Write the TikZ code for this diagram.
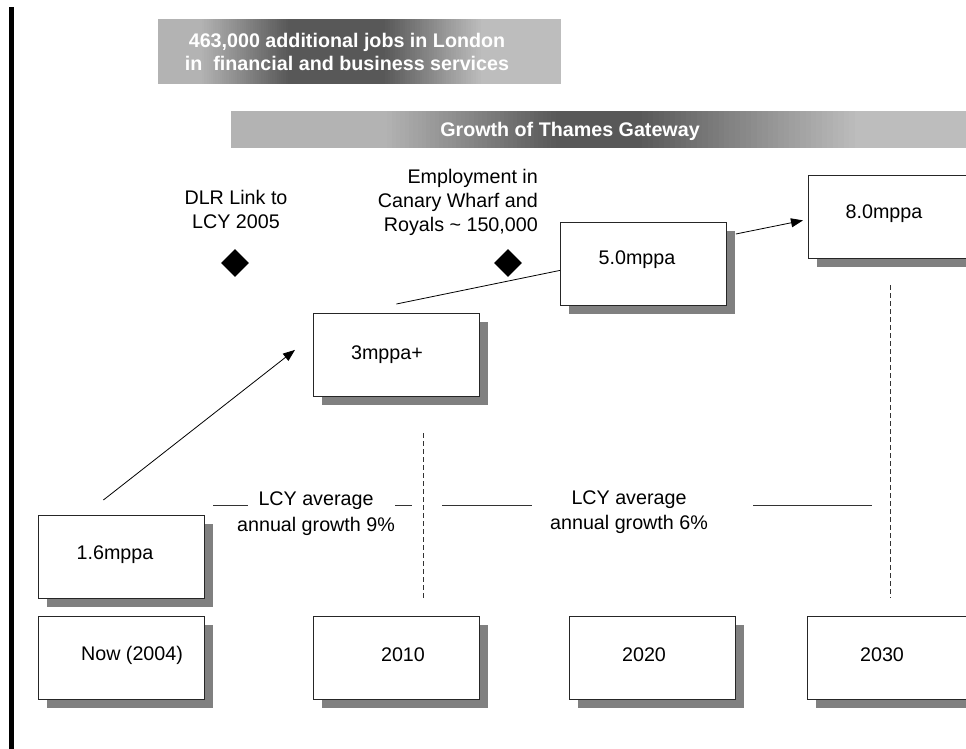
\documentclass[tikz,border=0pt]{standalone}
\usepackage{fontspec}
\setmainfont{Liberation Sans}
\usetikzlibrary{shapes.geometric,shadows,arrows.meta}
\definecolor{lightA}{HTML}{B3B3B3}
\definecolor{lightB}{HTML}{BDBDBD}
\definecolor{darkG}{HTML}{585858}
\definecolor{shgray}{HTML}{808080}
% manual gradient: #1=x start, #2=x end, #3=y top, #4=y bottom, #5 start colour, #6 end colour
\newcommand\gradstrip[6]{%
  \foreach \k in {0,...,40}{%
    \pgfmathsetmacro\xa{#1+(#2-#1)*\k/41}%
    \pgfmathsetmacro\xb{#1+(#2-#1)*(\k+1)/41+0.6}%
    \pgfmathsetmacro\pc{100-\k*100/40}%
    \fill[#5!\pc!#6] (\xa,#3) rectangle (\xb,#4);
  }}
\begin{document}
\begin{tikzpicture}[x=1pt,y=1pt,
  box/.style={draw=black!85, line width=0.8pt, fill=white, minimum width=166pt, minimum height=83pt, inner sep=0pt, anchor=north west,
    drop shadow={shadow xshift=9pt, shadow yshift=-9pt, fill=shgray, opacity=1}},
  txt/.style={font=\fontsize{19.7}{24}\selectfont, inner sep=0pt, align=center},
  htxt/.style={font=\fontsize{19.7}{23}\selectfont\bfseries, text=white, inner sep=0pt, align=center},
  gem/.style={diamond, fill=black, minimum width=28pt, minimum height=28pt, inner sep=0pt, aspect=1},
  arr/.style={line width=0.8pt, -{Triangle[length=12pt,width=9pt]}},
  conn/.style={line width=0.8pt},
  seg/.style={line width=0.8pt, draw=black!80},
  dsh/.style={line width=0.8pt, draw=black!80, dash pattern=on 5pt off 3pt}]
\useasboundingbox (0,0) rectangle (966,-749);
\clip (0,0) rectangle (966,-749);
\fill[white] (0,0) rectangle (966,-749);
% left black bar
\fill[black] (9,-7) rectangle (14,-749);
% header box gradient (light - dark - light)
\fill[lightA] (158,-19) rectangle (200.5,-84);
\gradstrip{200}{290}{-19}{-84}{lightA}{darkG}
\fill[darkG] (290,-19) rectangle (383.5,-84);
\gradstrip{383}{483}{-19}{-84}{darkG}{lightB}
\fill[lightB] (483,-19) rectangle (561,-84);
\node[minimum width=403pt, minimum height=65pt, inner sep=0pt] (topbox) at (359.5,-51.5) {};
\node[htxt] (toptext) at (347,-51.5) {463,000 additional jobs in London\\in\ \ financial and business services};
% Thames Gateway bar gradient
\fill[lightA] (231,-111) rectangle (383.5,-148);
\gradstrip{383}{560}{-111}{-148}{lightA}{darkG}
\fill[darkG] (560,-111) rectangle (637.5,-148);
\gradstrip{637}{860}{-111}{-148}{darkG}{lightB}
\fill[lightB] (860,-111) rectangle (966,-148);
\node[minimum width=735pt, minimum height=37pt, inner sep=0pt] (bar) at (598.5,-129.5) {};
\node[htxt] (bartext) at (570,-131) {Growth of Thames Gateway};
% milestones
\node[txt] (dlr) at (236,-209.5) {DLR Link to\\LCY 2005};
\node[txt, align=right, anchor=east] (emp) at (538,-202.5) {Employment in\\Canary Wharf and\hspace*{5pt}\\Royals \textasciitilde{} 150,000};
\node[gem] (d1) at (235,-263) {};
\node[gem] (d2) at (508,-263) {};
% capacity boxes
\node[box] (b16) at (38,-515) {};
\node[txt] (t16) at (115,-555) {1.6mppa};
\node[box] (b3) at (313,-313) {};
\node[txt] (t3) at (387,-355) {3mppa+};
\node[box] (b5) at (560,-222) {};
\node[txt] (t5) at (637,-260) {5.0mppa};
\node[box] (b8) at (808,-175) {};
\node[txt] (t8) at (884,-214) {8.0mppa};
% year boxes
\node[box] (y04) at (38,-616) {};
\node[txt] (ty04) at (132,-655) {Now (2004)};
\node[box] (y10) at (313,-616) {};
\node[txt] (ty10) at (403,-655) {2010};
\node[box] (y20) at (569,-616) {};
\node[txt] (ty20) at (644,-655) {2020};
\node[box] (y30) at (807,-616) {};
\node[txt] (ty30) at (882,-655) {2030};
% growth labels
\node[txt, font=\fontsize{19.7}{26}\selectfont] (g9) at (316,-514) {LCY average\\annual growth 9\%};
\node[txt, font=\fontsize{19.7}{25}\selectfont] (g6) at (629,-512.5) {LCY average\\annual growth 6\%};
\draw[seg] (213,-505.5) -- (248,-505.5);
\draw[seg] (395,-505.5) -- (412,-505.5);
\draw[seg] (442,-505.5) -- (532,-505.5);
\draw[seg] (753,-505.5) -- (872,-505.5);
% dashed dividers
\draw[dsh] (423,-433) -- (423,-598);
\draw[dsh] (890,-285) -- (890,-598);
% connectors
\draw[arr] ([shift={(-18,15)}]b16.north) -- ([shift={(-18,5)}]b3.west);
\draw[conn] ([shift={(0,9)}]b3.north) -- ([shift={(0,-6.5)}]b5.west);
\draw[arr] ([shift={(9,-12)}]b5.north east) -- ([shift={(-5,-3.5)}]b8.west);
\end{tikzpicture}
\end{document}
